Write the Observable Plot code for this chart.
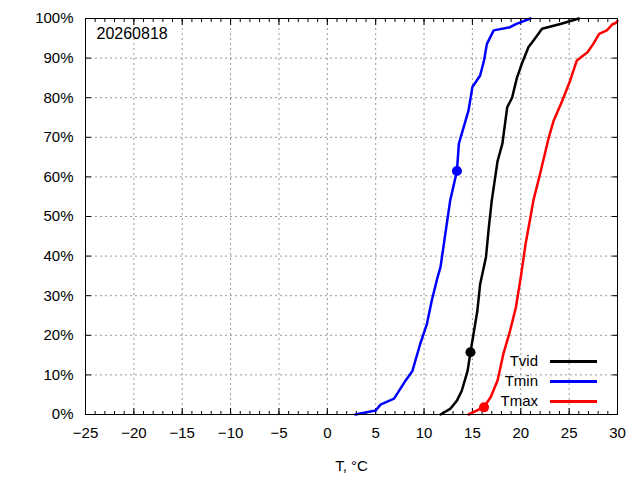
<!DOCTYPE html>
<html>
<head>
<meta charset="utf-8">
<script src="https://cdn.jsdelivr.net/npm/d3@7"></script>
<script src="https://cdn.jsdelivr.net/npm/@observablehq/plot@0.6"></script>
<style>
  html, body { margin: 0; padding: 0; background: #fff; }
  #wrap { position: relative; width: 640px; height: 480px; font-family: "Liberation Sans", Arial, sans-serif; }
  #legend { position: absolute; left: 0; top: 0; width: 640px; height: 480px; pointer-events: none; }
  .lg-text { position: absolute; right: 102px; font-size: 15px; line-height: 18px; color: #000; }
  .lg-line { position: absolute; left: 550px; width: 47px; height: 3px; }
</style>
</head>
<body>
<div id="wrap"><div id="legend"></div></div>
<script>
// ---- data ----
const dateLabel = "20260818";
const xLabel = "T, °C";
const seriesNames = ["Tvid", "Tmin", "Tmax"];
const seriesColors = ["#000000", "#0000ff", "#ff0000"];

const tvidT = [11.7, 12.7, 13.4, 13.9, 14.5, 14.8, 15.5, 15.8, 16.4, 16.7, 17.0, 17.6, 18.1, 18.6, 19.1, 19.6, 20.1, 20.8, 21.3, 22.2, 24.1, 26.0];
const tvidP = [0, 1.4, 3.5, 6, 11, 15.7, 26, 32.9, 39.7, 47.3, 54, 64, 68.4, 77.6, 80, 85, 88.5, 92.8, 94.4, 97.4, 98.6, 100];

const tminT = [2.9, 5.0, 5.5, 6.9, 8.1, 8.8, 9.6, 10.3, 10.8, 11.4, 11.7, 12.2, 12.7, 13.4, 13.6, 14.6, 15.0, 15.8, 16.2, 16.5, 17.2, 18.9, 19.5, 21.0];
const tminP = [0, 1, 2.5, 4, 8.6, 11, 17.8, 22.9, 28.8, 34.7, 37.2, 45.6, 54, 61.5, 68.4, 76.8, 82.7, 85.6, 89.4, 93.6, 97, 97.8, 98.6, 100];

const tmaxT = [14.6, 15.8, 16.2, 16.9, 17.6, 18.2, 18.9, 19.5, 20.0, 20.5, 21.0, 21.3, 22.0, 22.9, 23.4, 24.3, 25.1, 25.8, 26.9, 27.5, 28.1, 28.9, 29.5, 29.8, 30];
const tmaxP = [0, 1.4, 1.9, 4.4, 8.6, 15.3, 21.2, 27.1, 34.7, 43.1, 49.8, 54, 60.8, 70, 74.2, 79.3, 84.3, 89.4, 91.5, 93.6, 96.1, 97, 98.6, 98.8, 99.4];

// current-value markers
const markT = [14.8, 13.4, 16.2];
const markP = [15.7, 61.5, 1.8];

const xTicks = [-25, -20, -15, -10, -5, 0, 5, 10, 15, 20, 25, 30];
const xMinorTicks = d3.range(-25, 31, 1);
const yTicks = [0, 10, 20, 30, 40, 50, 60, 70, 80, 90, 100];

// ---- build rows ----
const allT = [tvidT, tminT, tmaxT];
const allP = [tvidP, tminP, tmaxP];
const rows = [];
seriesNames.forEach((s, i) => allT[i].forEach((t, j) => rows.push({series: s, T: t, P: allP[i][j]})));
const marks = seriesNames.map((s, i) => ({series: s, T: markT[i], P: markP[i]}));

const colorScale = {domain: seriesNames, range: seriesColors};
const gridStyle = {stroke: "#999", strokeOpacity: 1, strokeDasharray: "2,3", strokeWidth: 1};
const blank = () => "";

const chart = Plot.plot({
  width: 640,
  height: 480,
  marginLeft: 85,
  marginRight: 23,
  marginTop: 18,
  marginBottom: 66,
  style: {fontFamily: "'Liberation Sans', Arial, sans-serif", fontSize: "15px", background: "#fff", color: "#000"},
  x: {domain: [-25, 30]},
  y: {domain: [0, 100]},
  color: colorScale,
  marks: [
    Plot.gridX(xTicks, gridStyle),
    Plot.gridY(yTicks, gridStyle),
    Plot.axisX(xTicks, {anchor: "bottom", tickSize: 0, tickPadding: 13, fontSize: 15, label: xLabel, labelAnchor: "center", labelArrow: "none", labelOffset: 56}),
    Plot.axisX(xTicks, {anchor: "bottom", tickSize: -6, tickFormat: blank, label: null}),
    Plot.axisX(xMinorTicks, {anchor: "bottom", tickSize: -3, tickFormat: blank, label: null}),
    Plot.axisX(xTicks, {anchor: "top", tickSize: -6, tickFormat: blank, label: null}),
    Plot.axisX(xMinorTicks, {anchor: "top", tickSize: -3, tickFormat: blank, label: null}),
    Plot.axisY(yTicks, {anchor: "left", tickSize: 0, tickPadding: 12, fontSize: 15, tickFormat: d => d + "%", label: null}),
    Plot.axisY(yTicks, {anchor: "left", tickSize: -6, tickFormat: blank, label: null}),
    Plot.axisY(yTicks, {anchor: "right", tickSize: -6, tickFormat: blank, label: null}),
    Plot.line(rows, {x: "T", y: "P", z: "series", stroke: "series", strokeWidth: 2.5, curve: "linear"}),
    Plot.dot(marks, {x: "T", y: "P", fill: "series", r: 5}),
    Plot.frame({stroke: "#000", strokeWidth: 1}),
    Plot.text([dateLabel], {frameAnchor: "top-left", dx: 11, dy: 9, textAnchor: "start", lineAnchor: "top", fontSize: 16, fill: "#000"})
  ]
});

const wrap = document.getElementById("wrap");
wrap.insertBefore(chart, wrap.firstChild);

// ---- legend (inside plot, bottom-right) ----
const legend = document.getElementById("legend");
const legendY = [361, 381, 401];
seriesNames.forEach((s, i) => {
  const t = document.createElement("div");
  t.className = "lg-text";
  t.textContent = s;
  t.style.top = (legendY[i] - 9) + "px";
  legend.appendChild(t);
  const l = document.createElement("div");
  l.className = "lg-line";
  l.style.top = (legendY[i] - 1.5) + "px";
  l.style.background = seriesColors[i];
  legend.appendChild(l);
});
</script>
</body>
</html>
